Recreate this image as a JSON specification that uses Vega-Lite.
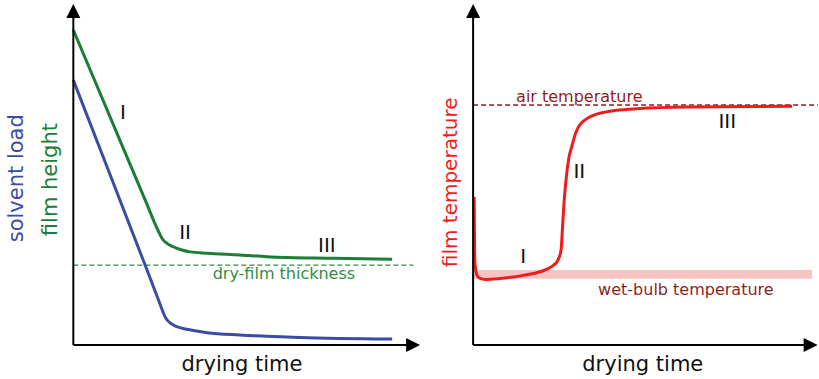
{
  "$schema": "https://vega.github.io/schema/vega-lite/v6.json",
  "background": "white",
  "padding": 0,
  "spacing": 0,
  "bounds": "flush",
  "config": {
    "view": {"stroke": null},
    "font": "DejaVu Sans",
    "text": {"font": "DejaVu Sans"}
  },
  "datasets": {
    "filmHeight": [
      {"t": 0, "y": 92.4}, {"t": 12, "y": 63.3}, {"t": 20.5, "y": 42.7}, {"t": 24.3, "y": 33.5},
      {"t": 25.7, "y": 30.8}, {"t": 26.8, "y": 29.8}, {"t": 28.6, "y": 28.8}, {"t": 30.6, "y": 28.0},
      {"t": 33.4, "y": 27.3}, {"t": 38.3, "y": 26.9}, {"t": 47.7, "y": 26.4}, {"t": 55.4, "y": 25.9},
      {"t": 74.4, "y": 25.4}, {"t": 91.3, "y": 25.1}
    ],
    "solventLoad": [
      {"t": 0, "y": 77.7}, {"t": 10, "y": 51.3}, {"t": 20, "y": 24.9}, {"t": 24.6, "y": 12.6},
      {"t": 25.7, "y": 9.6}, {"t": 26.5, "y": 7.8}, {"t": 27.7, "y": 6.5}, {"t": 29.1, "y": 5.6},
      {"t": 31.1, "y": 4.9}, {"t": 34.0, "y": 4.3}, {"t": 38.3, "y": 3.6}, {"t": 47.7, "y": 2.9},
      {"t": 64.9, "y": 2.2}, {"t": 91.3, "y": 1.7}
    ],
    "dryFilm": [{"t": 0, "y": 23.4}, {"t": 97.4, "y": 23.4}],
    "filmTemp": [
      {"t": 0.3, "y": 43.4}, {"t": 0.4, "y": 31.0}, {"t": 0.55, "y": 24.0}, {"t": 1.1, "y": 20.5},
      {"t": 2.0, "y": 19.5}, {"t": 3.5, "y": 19.2}, {"t": 7.8, "y": 19.5}, {"t": 14.5, "y": 20.4},
      {"t": 21.1, "y": 22.1}, {"t": 23.2, "y": 23.3}, {"t": 24.6, "y": 24.9}, {"t": 25.5, "y": 27.8},
      {"t": 25.9, "y": 34.0}, {"t": 26.35, "y": 41.5}, {"t": 26.9, "y": 48.0}, {"t": 27.7, "y": 54.5},
      {"t": 28.7, "y": 58.5}, {"t": 29.8, "y": 62.3}, {"t": 30.6, "y": 64.0}, {"t": 31.8, "y": 65.5},
      {"t": 33.5, "y": 66.7}, {"t": 38.2, "y": 68.3}, {"t": 47.5, "y": 69.3}, {"t": 62.0, "y": 69.8},
      {"t": 92.5, "y": 70.0}
    ],
    "airTemp": [{"t": 0, "y": 70.4}, {"t": 100, "y": 70.4}],
    "wetBulb": [{"t": 0, "t2": 98.3, "y": 19.4, "y2": 22.0}],
    "axesLeft": [
      {"t": 0, "t2": 95.5, "y": 0, "y2": 0},
      {"t": 0, "t2": 0, "y": 0, "y2": 96}
    ],
    "arrowUpLeft": [{"t": 0, "y": 100}],
    "arrowRightLeft": [{"t": 99.3, "y": 0}],
    "axesRight": [
      {"t": 0, "t2": 96, "y": 0, "y2": 0},
      {"t": 0, "t2": 0, "y": 0, "y2": 96}
    ],
    "arrowUpRight": [{"t": 0, "y": 100}],
    "arrowRightRight": [{"t": 99.9, "y": 0}],
    "phasesLeft": [
      {"t": 14.2, "y": 66.2, "label": "I"},
      {"t": 32.0, "y": 31.1, "label": "II"},
      {"t": 72.6, "y": 27.2, "label": "III"}
    ],
    "phasesRight": [
      {"t": 14.5, "y": 24.0, "label": "I"},
      {"t": 30.8, "y": 49.0, "label": "II"},
      {"t": 73.7, "y": 63.7, "label": "III"}
    ],
    "dryFilmLabel": [{"t": 60.3, "y": 19.2, "label": "dry-film thickness"}],
    "timeLabelLeft": [{"t": 48.3, "y": -7.6, "label": "drying time"}],
    "timeLabelRight": [{"t": 49.2, "y": -7.6, "label": "drying time"}],
    "solventLabel": [{"t": -14.4, "y": 48.9, "label": "solvent load"}],
    "heightLabel": [{"t": -4.6, "y": 48.5, "label": "film height"}],
    "tempLabel": [{"t": -4.8, "y": 47.7, "label": "film temperature"}],
    "airLabel": [{"t": 30.8, "y": 71.3, "label": "air temperature"}],
    "wetBulbLabel": [{"t": 61.7, "y": 14.6, "label": "wet-bulb temperature"}]
  },
  "hconcat": [
    {
      "width": 440,
      "height": 379,
      "encoding": {
        "x": {"field": "t", "type": "quantitative", "scale": {"domain": [-21, 105], "nice": false, "zero": false}, "axis": null},
        "y": {"field": "y", "type": "quantitative", "scale": {"domain": [-10, 101.2], "nice": false, "zero": false}, "axis": null}
      },
      "layer": [
        {
          "data": {"name": "dryFilm"},
          "mark": {"type": "line", "color": "#2f8f42", "strokeWidth": 1.3, "strokeDash": [5, 3]}
        },
        {
          "data": {"name": "solventLoad"},
          "mark": {"type": "line", "color": "#3a4da4", "strokeWidth": 3, "interpolate": "monotone"}
        },
        {
          "data": {"name": "filmHeight"},
          "mark": {"type": "line", "color": "#1c7d34", "strokeWidth": 3, "interpolate": "monotone"}
        },
        {
          "data": {"name": "axesLeft"},
          "mark": {"type": "rule", "color": "black", "strokeWidth": 2},
          "encoding": {"x2": {"field": "t2"}, "y2": {"field": "y2"}}
        },
        {
          "data": {"name": "arrowUpLeft"},
          "mark": {"type": "point", "filled": true, "shape": "M0,0L-1,2L1,2Z", "size": 196, "color": "black", "opacity": 1}
        },
        {
          "data": {"name": "arrowRightLeft"},
          "mark": {"type": "point", "filled": true, "shape": "M0,0L-2,-1L-2,1Z", "size": 196, "color": "black", "opacity": 1}
        },
        {
          "data": {"name": "phasesLeft"},
          "mark": {"type": "text", "fontSize": 20, "color": "#111", "baseline": "alphabetic", "align": "center"},
          "encoding": {"text": {"field": "label"}}
        },
        {
          "data": {"name": "dryFilmLabel"},
          "mark": {"type": "text", "fontSize": 16, "color": "#2f8f42", "baseline": "alphabetic", "align": "center"},
          "encoding": {"text": {"field": "label"}}
        },
        {
          "data": {"name": "timeLabelLeft"},
          "mark": {"type": "text", "fontSize": 21, "color": "#111", "baseline": "alphabetic", "align": "center"},
          "encoding": {"text": {"field": "label"}}
        },
        {
          "data": {"name": "solventLabel"},
          "mark": {"type": "text", "fontSize": 21, "color": "#3a4da4", "baseline": "alphabetic", "align": "center", "angle": 270},
          "encoding": {"text": {"field": "label"}}
        },
        {
          "data": {"name": "heightLabel"},
          "mark": {"type": "text", "fontSize": 21, "color": "#1c7d34", "baseline": "alphabetic", "align": "center", "angle": 270},
          "encoding": {"text": {"field": "label"}}
        }
      ]
    },
    {
      "width": 379,
      "height": 379,
      "encoding": {
        "x": {"field": "t", "type": "quantitative", "scale": {"domain": [-9.6, 100.3], "nice": false, "zero": false}, "axis": null},
        "y": {"field": "y", "type": "quantitative", "scale": {"domain": [-10, 101.2], "nice": false, "zero": false}, "axis": null}
      },
      "layer": [
        {
          "data": {"name": "wetBulb"},
          "mark": {"type": "rect", "color": "#f6c4c4", "opacity": 1},
          "encoding": {"x2": {"field": "t2"}, "y2": {"field": "y2"}}
        },
        {
          "data": {"name": "airTemp"},
          "mark": {"type": "line", "color": "#8e1f1f", "strokeWidth": 1.3, "strokeDash": [5, 3]}
        },
        {
          "data": {"name": "filmTemp"},
          "mark": {"type": "line", "color": "#ee1d1d", "strokeWidth": 3, "interpolate": "monotone"}
        },
        {
          "data": {"name": "axesRight"},
          "mark": {"type": "rule", "color": "black", "strokeWidth": 2},
          "encoding": {"x2": {"field": "t2"}, "y2": {"field": "y2"}}
        },
        {
          "data": {"name": "arrowUpRight"},
          "mark": {"type": "point", "filled": true, "shape": "M0,0L-1,2L1,2Z", "size": 196, "color": "black", "opacity": 1}
        },
        {
          "data": {"name": "arrowRightRight"},
          "mark": {"type": "point", "filled": true, "shape": "M0,0L-2,-1L-2,1Z", "size": 196, "color": "black", "opacity": 1}
        },
        {
          "data": {"name": "phasesRight"},
          "mark": {"type": "text", "fontSize": 20, "color": "#111", "baseline": "alphabetic", "align": "center"},
          "encoding": {"text": {"field": "label"}}
        },
        {
          "data": {"name": "airLabel"},
          "mark": {"type": "text", "fontSize": 16, "color": "#8e1f1f", "baseline": "alphabetic", "align": "center"},
          "encoding": {"text": {"field": "label"}}
        },
        {
          "data": {"name": "wetBulbLabel"},
          "mark": {"type": "text", "fontSize": 16, "color": "#8e1f1f", "baseline": "alphabetic", "align": "center"},
          "encoding": {"text": {"field": "label"}}
        },
        {
          "data": {"name": "timeLabelRight"},
          "mark": {"type": "text", "fontSize": 21, "color": "#111", "baseline": "alphabetic", "align": "center"},
          "encoding": {"text": {"field": "label"}}
        },
        {
          "data": {"name": "tempLabel"},
          "mark": {"type": "text", "fontSize": 20, "color": "#ee1d1d", "baseline": "alphabetic", "align": "center", "angle": 270},
          "encoding": {"text": {"field": "label"}}
        }
      ]
    }
  ]
}
